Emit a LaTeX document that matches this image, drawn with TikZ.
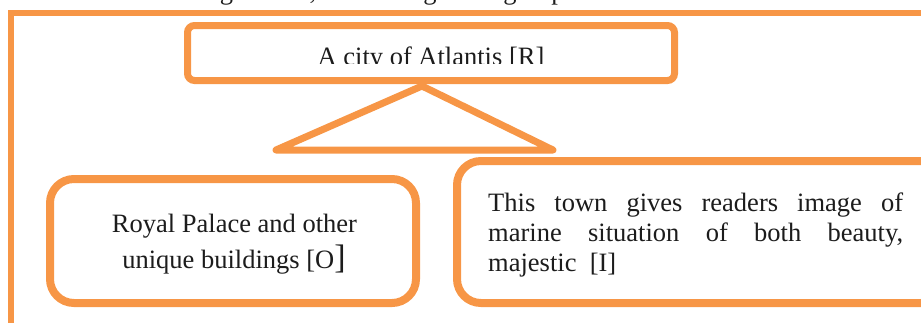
\documentclass[tikz,border=0pt]{standalone}
\usepackage{fontspec}
\setmainfont{Liberation Serif}
\definecolor{orng}{HTML}{F79646}
\definecolor{ink}{HTML}{1C1C1C}
\begin{document}
\begin{tikzpicture}[x=1pt,y=-1pt,
  frameline/.style={draw=orng, line width=6pt, line join=miter},
  topbox/.style={draw=orng, line width=7pt, rounded corners=7pt, inner sep=0pt},
  sidebox/.style={draw=orng, line width=8pt, rounded corners=24pt, inner sep=0pt},
  tri/.style={draw=orng, line width=7pt, line join=round, line cap=round},
  txt/.style={font=\fontsize{26.5}{30}\selectfont, text=ink, inner sep=0pt, anchor=base}
]
\useasboundingbox (0,0) rectangle (921,322);
% cut-off caption fragments above the frame
\node[txt] (f1) at (226.5,-1) {g};
\node[txt] (f2) at (313,-1) {,};
\node[txt] (f3) at (430,-1) {g};
\node[txt] (f4) at (510,-1) {g};
\node[txt] (f5) at (558,-1) {p};
% outer frame
\coordinate (fbl) at (10.5,335);
\coordinate (ftl) at (10.5,13);
\coordinate (ftr) at (940,13);
\draw[frameline] (fbl) -- (ftl) -- (ftr);
% top box
\node[topbox, minimum width=487pt, minimum height=55pt] (top) at (431,53) {};
\begin{scope}
  \clip (192,30) rectangle (670,63.3);
  \node[txt] (toptext) at (431,65.8) {A city of Atlantis [R]};
\end{scope}
% triangle
\coordinate (apex) at (422,86);
\coordinate (tl) at (276,150);
\coordinate (tr) at (553,150);
\draw[tri] (apex) -- (tl) -- (tr) -- cycle;
% left box
\node[sidebox, minimum width=366pt, minimum height=124pt] (left) at (233,241) {};
\node[txt] (l1) at (234.5,232) {Royal Palace and other};
\node[txt] (l2) at (234,268.5) {unique buildings [O{\fontsize{34}{34}\selectfont]}};
% right box
\node[sidebox, minimum width=488pt, minimum height=142pt] (right) at (701,232) {};
\node[txt, anchor=base west] (r1) at (488,211.5) {\makebox[415pt][s]{This town gives readers image of}};
\node[txt, anchor=base west] (r2) at (488,241) {\makebox[415pt][s]{marine situation of both beauty,}};
\node[txt, anchor=base west] (r3) at (488,271) {majestic\ \ [I]};
\end{tikzpicture}
\end{document}
